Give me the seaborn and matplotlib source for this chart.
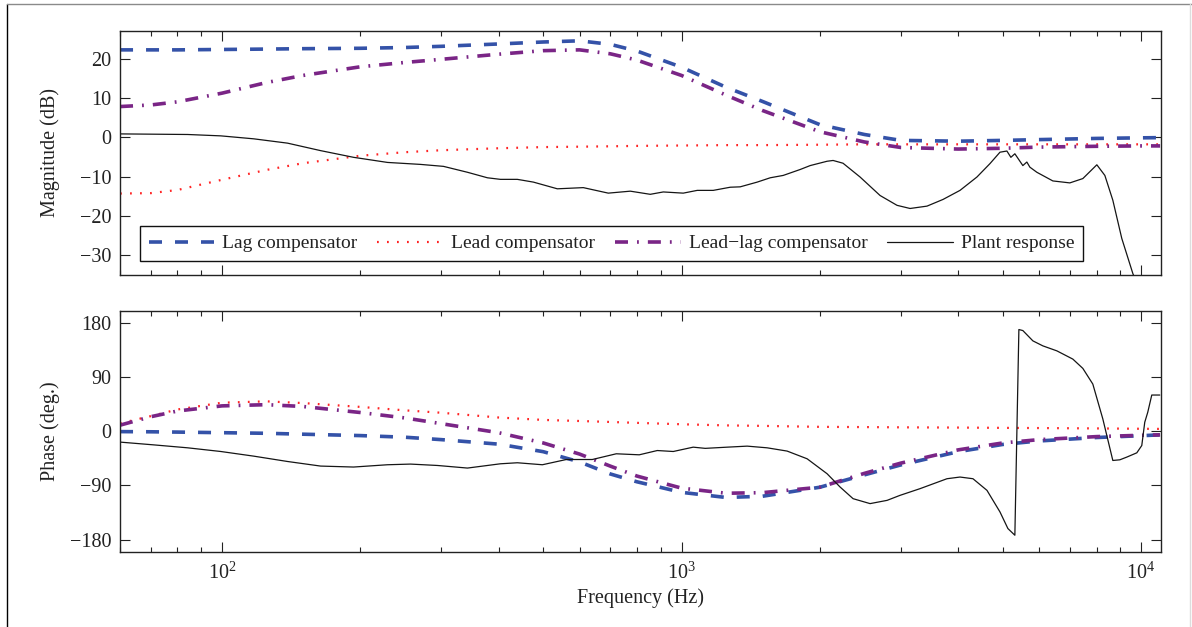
import matplotlib
matplotlib.use("Agg")
import matplotlib.pyplot as plt
from matplotlib.lines import Line2D
from matplotlib.ticker import LogLocator, NullFormatter, FixedLocator
import pandas as pd
import seaborn as sns

# ---------------- data ----------------
FREQ = [60, 70, 80, 100, 125, 150, 200, 250, 300, 400, 500, 600, 700, 800,
        1000, 1250, 1500, 2000, 2500, 3000, 4000, 5000, 6000, 8000, 10000, 11000]

LAG_MAG = [22.2, 22.2, 22.2, 22.3, 22.4, 22.5, 22.6, 22.8, 23.1, 23.7, 24.2, 24.5, 23.6, 21.9,
           17.8, 12.7, 9.1, 3.2, 0.7, -0.8, -1.0, -0.8, -0.6, -0.3, -0.15, -0.1]
LEAD_MAG = [-14.3, -14.2, -13.4, -10.8, -8.3, -6.6, -4.7, -3.8, -3.3, -2.8, -2.5, -2.4, -2.3, -2.2,
            -2.1, -2.0, -2.0, -1.9, -1.8, -1.8, -1.8, -1.8, -1.8, -1.8, -1.8, -1.8]
LEADLAG_MAG = [7.8, 8.2, 9.0, 11.2, 13.9, 15.7, 17.9, 19.0, 19.8, 21.1, 22.0, 22.2, 21.2, 19.6,
               15.7, 10.7, 6.8, 1.4, -1.2, -2.6, -3.0, -2.8, -2.5, -2.3, -2.2, -2.2]

LAG_PH = [-0.7, -1.0, -1.5, -2.5, -3.5, -5.0, -7.3, -10.0, -14.0, -21.5, -34.0, -51.0, -71.0, -84.0,
          -101.5, -110.0, -108.0, -93.0, -72.5, -56.0, -34.0, -22.0, -16.2, -10.5, -7.5, -6.1]
LEAD_PH = [13.0, 25.0, 36.0, 47.3, 49.5, 46.7, 40.3, 34.6, 30.6, 22.7, 18.7, 16.9, 15.3, 13.8,
           11.5, 9.6, 8.8, 7.2, 6.8, 6.4, 6.0, 5.5, 5.2, 4.6, 4.0, 3.8]
LEADLAG_PH = [10.0, 24.0, 33.5, 42.0, 44.0, 41.0, 31.0, 22.0, 12.5, -2.5, -19.5, -38.0, -58.0, -74.5,
              -94.5, -103.0, -102.0, -93.0, -70.0, -53.0, -31.0, -19.5, -14.0, -9.0, -6.8, -6.1]

PLANT_MAG_FREQ = [60, 84.2, 99.4, 117.2, 138.9, 163.9, 193.3, 229.2, 270.4, 303.4, 342.1, 378.1,
                  403.6, 439.3, 476.1, 536.7, 611.3, 692.8, 773.6, 855.0, 912.6, 1008.6, 1081.8,
                  1172.1, 1276.3, 1341.7, 1460.8, 1559.5, 1664.4, 1811.5, 1905, 2073.5, 2137,
                  2246, 2446, 2704, 2944, 3143, 3421, 3707, 4036, 4394, 4690, 4931, 5105, 5208,
                  5313, 5530, 5642, 5728, 5932, 6427, 6998, 7469, 8012, 8340, 8680, 9078, 9594, 9936]
PLANT_MAG = [0.85, 0.7, 0.35, -0.4, -1.5, -3.4, -5.1, -6.4, -6.9, -7.4, -8.9, -10.3,
             -10.7, -10.7, -11.4, -13.1, -12.8, -14.2, -13.7, -14.5, -13.9, -14.2, -13.5,
             -13.5, -12.7, -12.6, -11.4, -10.3, -9.7, -8.2, -7.2, -6.1, -5.9,
             -6.6, -10.1, -14.8, -17.3, -18.1, -17.5, -15.8, -13.5, -10.1, -6.7, -3.8, -3.5, -5.1,
             -4.2, -7.2, -6.3, -7.6, -8.9, -11.1, -11.6, -10.5, -7.0, -9.7, -16.0, -25.7, -34.6, -39.0]

PLANT_PH_FREQ = [60.2, 71.0, 84.2, 99.4, 117.2, 138.9, 163.9, 193.3, 229.2, 257.2, 294.4, 342.1,
                 403.6, 439.3, 498.0, 561.4, 639.5, 721.1, 809.1, 885.6, 959.4, 1060.3, 1126,
                 1257.5, 1389.5, 1535.6, 1697.2, 1876.3, 2073.5, 2212.8, 2362, 2572, 2801, 2988,
                 3303, 3781, 4036, 4307, 4620, 4931, 5131, 5313, 5421, 5530, 5815, 6113, 6558,
                 7105, 7469, 7852, 8256, 8680, 8990, 9309, 9788, 10035, 10186, 10340, 10550, 10982]
PLANT_PH = [-18.2, -22.7, -27.6, -33.7, -41.4, -50.3, -57.9, -59.5, -55.7, -54.6, -56.9, -61.2,
            -54.1, -52.4, -55.7, -47.0, -47.0, -37.5, -39.2, -32.1, -33.7, -26.5, -28.5,
            -26.5, -24.8, -27.6, -33.0, -45.8, -70.6, -92.6, -112.0, -120.2, -114.8, -106.5,
            -95.4, -78.9, -76.1, -78.9, -98.2, -134.0, -161.6, -172.7, 168.7, 167.0, 149.9, 141.6, 133.3,
            119.6, 104.2, 78.2, 20.3, -48.6, -47.5, -43.0, -35.9, -23.8, 14.9, 31.4, 60.0, 60.0]

LABELS = ["Lag compensator", "Lead compensator", "Lead\u2212lag compensator", "Plant response"]
MAG_TICKS = [-30, -20, -10, 0, 10, 20]
PH_TICKS = [-180, -90, 0, 90, 180]

# ---------------- style ----------------
sns.set_theme(style="ticks")
plt.rcParams['font.family'] = ['Liberation Serif', 'DejaVu Serif']
plt.rcParams['mathtext.fontset'] = 'stix'
plt.rcParams['axes.unicode_minus'] = True

STYLES = {
    "lag": dict(color="#3452a8", linewidth=2.6, linestyle=(0, (3.6, 3.6))),
    "lead": dict(color="#ff2424", linewidth=1.6, linestyle=(0, (0.8, 3.7))),
    "leadlag": dict(color="#7a2586", linewidth=2.6, linestyle=(0, (3.6, 2.5, 0.5, 2.5))),
    "plant": dict(color="#151515", linewidth=0.9, linestyle="-"),
}

comp = pd.DataFrame({"freq": FREQ, "lag_mag": LAG_MAG, "lead_mag": LEAD_MAG,
                     "leadlag_mag": LEADLAG_MAG, "lag_ph": LAG_PH, "lead_ph": LEAD_PH,
                     "leadlag_ph": LEADLAG_PH})
plant_mag = pd.DataFrame({"freq": PLANT_MAG_FREQ, "mag": PLANT_MAG})
plant_ph = pd.DataFrame({"freq": PLANT_PH_FREQ, "ph": PLANT_PH})

fig = plt.figure(figsize=(11.92, 6.27), dpi=100)
ax1 = fig.add_axes([0.1007, 0.5614, 0.8733, 0.3892])
ax2 = fig.add_axes([0.1007, 0.1201, 0.8733, 0.3844])

for ax in (ax1, ax2):
    ax.set_xscale("log")

common = dict(estimator=None, sort=False, legend=False)
sns.lineplot(data=comp, x="freq", y="lag_mag", ax=ax1, label=LABELS[0], **STYLES["lag"], **common)
sns.lineplot(data=comp, x="freq", y="lead_mag", ax=ax1, label=LABELS[1], **STYLES["lead"], **common)
sns.lineplot(data=comp, x="freq", y="leadlag_mag", ax=ax1, label=LABELS[2], **STYLES["leadlag"], **common)
sns.lineplot(data=plant_mag, x="freq", y="mag", ax=ax1, label=LABELS[3], **STYLES["plant"], **common)

sns.lineplot(data=comp, x="freq", y="lag_ph", ax=ax2, **STYLES["lag"], **common)
sns.lineplot(data=comp, x="freq", y="lead_ph", ax=ax2, **STYLES["lead"], **common)
sns.lineplot(data=comp, x="freq", y="leadlag_ph", ax=ax2, **STYLES["leadlag"], **common)
sns.lineplot(data=plant_ph, x="freq", y="ph", ax=ax2, **STYLES["plant"], **common)

ax1.set_ylim(-35, 27)
ax2.set_ylim(-200, 200)
ax1.yaxis.set_major_locator(FixedLocator(MAG_TICKS))
ax2.yaxis.set_major_locator(FixedLocator(PH_TICKS))

for ax in (ax1, ax2):
    ax.set_xlim(60, 11050)
    ax.xaxis.set_major_locator(LogLocator(base=10))
    ax.xaxis.set_minor_locator(LogLocator(base=10, subs=range(2, 10)))
    ax.xaxis.set_minor_formatter(NullFormatter())
    ax.tick_params(which="both", direction="in", top=True, right=True,
                   colors="#222222", labelcolor="#222222", labelsize=14.5)
    ax.tick_params(which="major", length=7, width=0.8)
    ax.tick_params(which="minor", length=3.5, width=0.8)
    ax.tick_params(axis="y", pad=6)
    ax.tick_params(axis="x", pad=8)
    for sp in ax.spines.values():
        sp.set_color("#222222")
        sp.set_linewidth(1.0)
    ax.set_xlabel("")

ax1.tick_params(labelbottom=False)
ax1.set_ylabel("Magnitude (dB)", fontsize=14.5, color="#222222")
ax2.set_ylabel("Phase (deg.)", fontsize=14.5, color="#222222")
ax1.yaxis.set_label_coords(-0.058, 0.5)
ax2.yaxis.set_label_coords(-0.058, 0.5)
ax2.set_xlabel("Frequency (Hz)", fontsize=14.5, color="#222222", labelpad=3)

handles, labels = ax1.get_legend_handles_labels()
leg = ax1.legend(handles, labels, loc="lower left",
                 bbox_to_anchor=(0.019, 0.057, 0.906, 0.16), mode="expand",
                 ncol=4, frameon=True, fancybox=False, edgecolor="#111111",
                 framealpha=1, fontsize=14, handlelength=3.4, handletextpad=0.4,
                 borderaxespad=0, borderpad=0.45, columnspacing=1.2)
leg.get_frame().set_linewidth(1.0)
for t in leg.get_texts():
    t.set_color("#222222")

# outer page frame
fig.add_artist(Line2D([7 / 1192, 7 / 1192], [0, 1 - 4 / 627], transform=fig.transFigure,
                      color="black", linewidth=1.0))
fig.add_artist(Line2D([7 / 1192, 1], [1 - 4 / 627, 1 - 4 / 627], transform=fig.transFigure,
                      color="#8a8a8a", linewidth=1.0))
fig.add_artist(Line2D([1190 / 1192, 1190 / 1192], [0, 1 - 4 / 627], transform=fig.transFigure,
                      color="#dddddd", linewidth=1.0))

fig.savefig("out.png", dpi=100)
